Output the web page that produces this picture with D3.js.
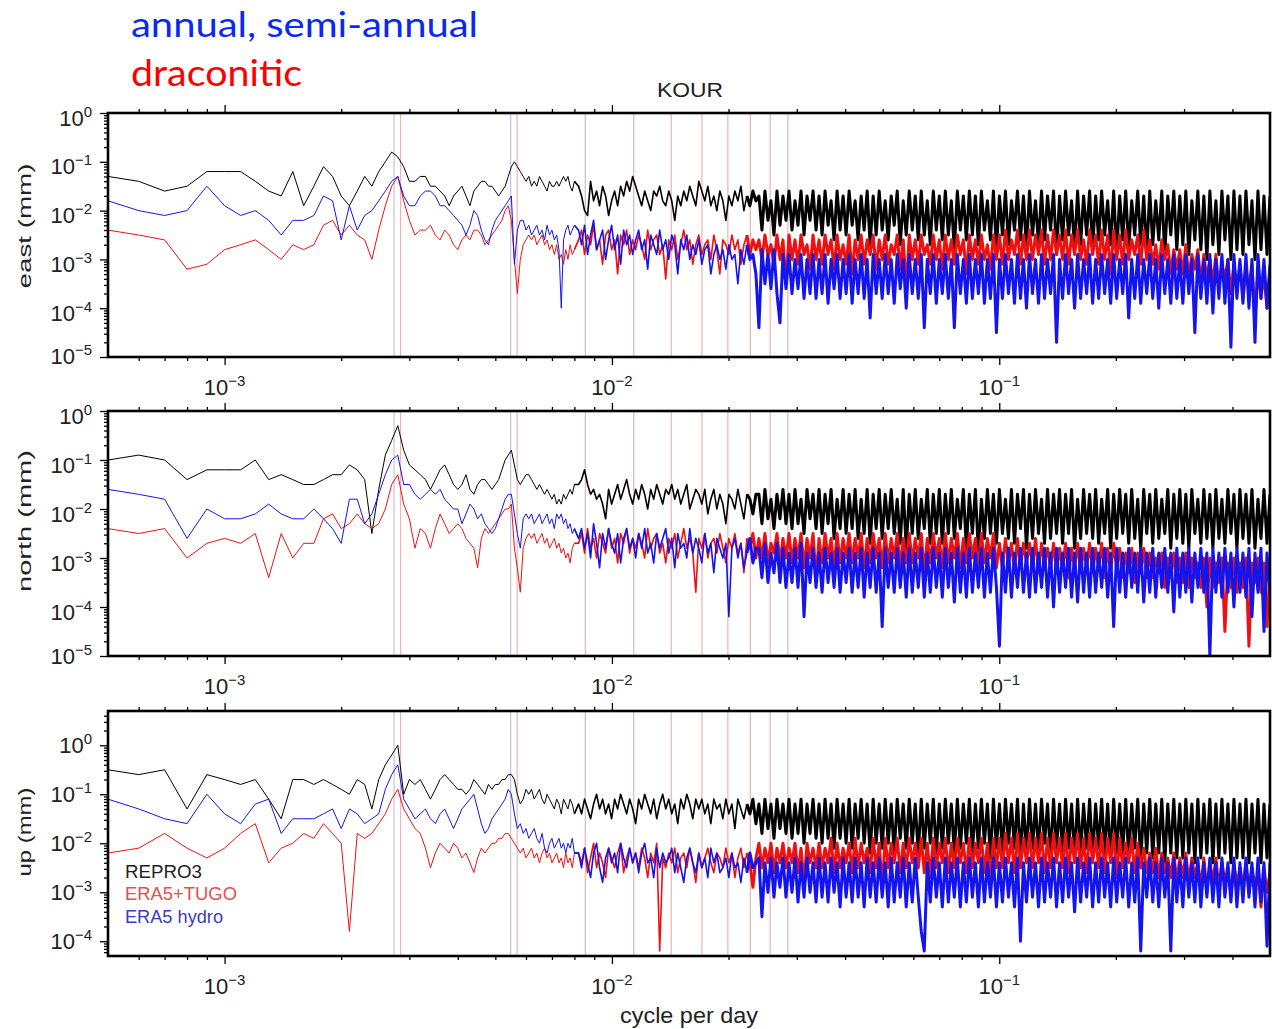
<!DOCTYPE html>
<html>
<head>
<meta charset="utf-8">
<script src="https://cdn.jsdelivr.net/npm/d3@7"></script>
<style>
  body { margin: 0; background: #fff; }
  svg { display: block; font-family: "Liberation Sans", Helvetica, Arial, sans-serif; }
</style>
</head>
<body>
<svg id="chart" width="1272" height="1029"></svg>
<script>
// amplitude spectra of KOUR, each value = -10*log10(amplitude in mm)
// "Low" arrays: one value per frequency bin k*1e-4 cpd, k = 5..80
// "High" arrays: one value per equal log step from 0.0082 to 0.5 cpd
const binWidth = 1e-4;
const firstBin = 5;
const highStart = 0.0082;
const highEnd = 0.5;

// periods marked by vertical lines (cpd)
const annualFreq = [0.002738, 0.005476];
const draconiticFreq = [0.002846, 0.005692, 0.008537, 0.011383, 0.014229, 0.017075, 0.01992, 0.022766, 0.025612, 0.028458];

const seriesNames = ["REPRO3", "ERA5+TUGO", "ERA5 hydro"];

// ---- east ----
const eastRepro3Low = [13,14,16,15,12,12,12,14,16,17, 12,19,15,11,13,17,19,16,13,15, 12,10,8,9,11,14,14,13,13,15,
  15,16,17,19,17,16,15,17,19,16, 15,14,14,15,15,16,17,16,15,13, 11,10,11,12,13,14,13,15,14,15,
  13,14,15,16,14,15,15,14,15,14, 13,14,13,15,16,14];
const eastRepro3High = [15,17,20,21,14,18,16,19,15,17, 21,18,16,19,15,17,14,16,13,15, 17,19,16,18,20,16,17,15,18,19,
  16,18,22,17,19,16,18,15,17,19, 14,16,18,15,19,17,20,16,18,22, 17,19,16,18,15,20,17,19,16,18,
  17,24,16,22,18,25,16,23,17,22, 16,24,18,23,16,25,17,22,16,24, 17,25,16,23,18,26,16,24,17,25,
  16,23,18,26,17,24,16,27,17,25, 16,24,18,26,17,23,16,27,18,25, 16,24,17,26,16,25,18,27,16,24,
  17,26,16,25,18,28,16,24,17,26, 16,25,17,27,16,24,18,26,16,28, 17,25,16,27,18,24,16,26,17,28,
  16,25,18,27,16,26,17,24,16,29, 17,26,16,25,18,28,16,27,17,25, 16,28,17,26,16,25,18,27,16,29,
  17,26,16,28,18,25,16,27,17,29, 16,27,18,26,16,29,17,25,16,28, 17,27,16,29,18,26,16,28,17,30,
  16,27,18,29,16,26,17,30,16,28, 17,29,16,27,18,30,16,28,17,29,17];
const eastTugoLow = [24,25,26,32,31,28,27,26,28,30, 27,28,27,23,22,25,23,25,26,30, 24,19,15,13,18,22,25,24,24,23,
  25,26,24,25,27,28,26,25,26,24, 24,25,27,26,25,24,23,22,20,19, 22,30,37,30,27,26,25,26,25,27,
  26,25,27,26,28,27,29,27,30,29, 31,28,30,27,29,28];
const eastTugoHigh = [26,24,29,25,27,23,28,26,31,25, 24,28,26,33,25,27,24,29,26,28, 25,27,30,24,28,26,25,29,27,34,
  26,28,25,30,27,24,28,26,31,27, 25,29,27,26,30,25,28,33,26,27, 29,25,28,26,31,27,25,29,26,28,
  26,30,25,29,27,31,25,30,26,35, 25,30,26,31,25,29,27,32,25,30, 26,31,25,29,26,32,25,30,27,31,
  25,33,26,30,25,31,26,29,25,32, 26,30,25,31,27,29,25,32,26,36, 25,30,26,31,25,29,27,31,25,30,
  26,32,25,30,26,31,25,29,26,33, 25,30,26,31,25,30,27,32,25,30, 25,31,24,30,26,29,24,31,25,30,
  24,30,25,29,24,31,25,30,24,29, 25,30,24,31,25,29,24,30,26,31, 24,29,25,31,24,30,25,33,24,30,
  25,31,24,30,26,29,25,31,24,30, 26,31,27,32,26,30,27,33,28,32, 28,33,27,34,29,32,28,35,29,34,
  30,35,29,36,31,34,30,37,31,36, 31,38,32,36,31,42,32,38,33,40,32];
const eastHydroLow = [18,20,21,20,15,19,21,20,22,25, 22,22,21,17,18,26,19,24,21,20, 18,16,14,13,17,19,19,17,16,16,
  17,19,19,20,21,22,23,25,23,20, 21,24,26,27,24,22,21,20,19,18, 17,31,24,22,22,24,23,25,24,23,
  25,24,26,23,25,24,26,25,28,40, 26,24,23,25,24,23];
const eastHydroHigh = [24,27,23,29,25,22,28,26,24,30, 26,23,28,25,31,24,27,25,29,26, 24,28,26,32,25,27,29,24,28,26,
  30,25,27,33,26,28,25,30,27,29, 26,31,28,27,33,29,27,30,28,32, 27,30,29,35,28,31,27,30,29,33,
  44,28,35,29,36,28,37,43,29,36, 29,37,30,36,29,38,30,37,29,38, 30,37,29,39,30,36,29,38,30,37,
  29,39,30,37,29,38,30,42,29,37, 30,38,29,37,30,39,29,36,30,40, 29,37,30,38,29,44,30,37,29,39,
  30,37,29,38,30,44,29,37,30,39, 29,38,30,37,29,39,30,38,29,45, 30,38,29,37,30,39,29,38,30,40,
  29,37,30,39,29,38,30,37,29,47, 30,38,29,37,30,40,29,38,30,37, 29,39,30,38,29,37,30,39,29,38,
  30,37,29,42,30,38,29,39,30,37, 29,38,30,40,29,37,30,39,29,38, 30,39,29,37,30,45,29,38,30,39,
  29,41,30,38,29,39,30,48,29,38, 30,39,29,40,30,47,29,38,30,40,31];

// ---- north ----
const northRepro3Low = [10,9,10,14,12,12,12,10,14,13, 14,15,15,14,13,13,11,12,14,25, 16,9,6,3,8,11,12,13,14,16,
  14,12,11,13,15,16,15,13,16,17, 15,14,14,15,16,15,14,12,10,9, 8,11,14,15,14,13,13,14,15,16,
  15,16,17,16,17,18,17,19,18,19, 17,18,17,16,17,15];
const northRepro3High = [15,14,12,15,17,16,18,17,19,22, 16,19,17,15,18,16,14,17,19,16, 18,15,17,20,16,18,15,17,19,16,
  17,15,18,16,19,17,15,20,18,16, 17,19,16,21,18,16,20,17,19,23, 17,18,20,16,19,22,17,18,21,17,
  17,23,16,22,18,24,17,22,16,23, 17,24,16,23,18,25,16,22,17,24, 16,25,17,23,16,26,18,24,16,25,
  17,24,16,26,18,25,16,27,17,24, 16,26,17,24,16,25,18,27,16,28, 17,25,16,26,18,24,16,27,17,25,
  16,27,17,25,16,26,18,24,16,28, 17,25,16,29,18,26,16,25,17,27, 16,25,18,26,16,27,17,24,16,28,
  17,26,16,25,18,27,16,26,17,25, 16,27,17,25,16,28,18,26,16,25, 17,26,16,27,18,25,16,28,17,26,
  16,25,17,27,16,26,18,28,16,25, 17,27,16,26,18,25,16,28,17,26, 16,27,17,28,16,25,18,27,16,26,
  17,28,16,26,18,27,16,25,17,28, 16,26,17,27,16,28,18,26,16,27,17];
const northTugoLow = [24,25,24,30,27,26,27,25,34,25, 30,27,27,22,21,24,23,21,23,24, 23,20,15,13,19,22,28,24,25,28,
  24,21,23,25,24,23,24,26,27,28, 32,26,24,25,24,23,22,21,20,20, 19,28,32,37,28,26,25,26,25,27,
  26,25,27,26,28,27,26,28,27,29, 28,30,29,31,28,27];
const northTugoHigh = [27,25,29,24,28,26,30,25,27,29, 24,28,26,31,25,27,24,29,26,28, 25,27,30,24,28,26,25,29,27,31,
  26,28,25,30,27,24,28,26,29,37, 26,28,25,30,27,26,29,25,28,31, 26,28,25,29,27,33,26,28,25,30,
  26,30,25,31,27,29,25,31,26,30, 25,31,26,30,25,32,26,30,25,34, 26,31,25,30,26,32,25,31,26,30,
  25,31,26,30,25,32,26,31,25,30, 26,32,25,31,26,30,25,32,26,31, 25,31,26,30,25,33,26,31,25,30,
  26,32,25,31,26,30,25,32,26,31, 25,30,26,32,25,31,26,30,25,32, 27,32,26,31,27,33,26,32,27,31,
  27,32,26,33,27,31,28,32,27,33, 28,32,27,34,28,32,27,33,28,32, 27,33,28,32,27,34,28,33,27,32,
  28,34,29,33,28,35,29,33,28,34, 29,34,30,33,29,36,30,34,29,35, 30,35,29,36,30,34,31,36,30,40,
  30,36,31,35,30,45,31,36,30,37, 31,36,30,48,31,35,30,37,31,44,32];
const northHydroLow = [16,17,18,26,20,22,22,21,19,21, 22,22,20,22,24,27,18,18,23,21, 17,13,10,9,15,15,17,18,17,16,
  17,16,18,19,20,20,23,21,19,20, 22,21,23,24,25,24,22,20,18,17, 17,21,25,28,22,21,22,21,23,22,
  21,23,22,21,23,22,24,21,22,21, 23,22,24,23,25,24];
const northHydroHigh = [26,24,28,25,30,23,27,32,25,28, 24,27,29,25,31,26,24,28,26,30, 25,28,24,29,27,31,25,28,26,24,
  29,26,32,25,28,27,30,24,29,26, 28,31,25,29,27,33,26,28,30,27, 42,28,26,30,27,32,29,26,31,28,
  28,34,27,35,29,33,27,35,28,36, 29,35,28,36,27,42,29,35,28,36, 29,37,28,35,29,36,28,37,29,35,
  28,37,29,36,28,38,29,36,28,37, 29,44,28,36,29,37,28,36,29,38, 28,37,29,36,28,38,29,37,28,36,
  29,38,28,36,29,39,28,37,29,38, 28,37,29,36,28,38,29,37,28,36, 48,29,37,28,38,29,36,28,37,29,
  38,28,37,29,36,28,38,29,40,28, 37,29,36,28,38,29,39,28,37,29, 38,28,37,29,36,28,38,29,44,28,
  37,29,38,28,36,29,37,28,39,29, 37,28,38,29,36,28,37,29,41,28, 38,29,37,28,39,29,36,28,37,29,
  50,28,37,29,38,28,37,29,40,28, 37,29,38,28,42,29,37,28,45,29,37];

// ---- up ----
const upRepro3Low = [5,6,5,13,6,7,8,7,11,15, 7,7,8,7,8,9,10,7,8,13, 7,4,2,0,10,7,8,7,9,11,
  9,7,6,7,8,9,9,10,9,7, 8,9,10,8,9,8,8,7,7,6, 6,7,10,12,11,9,10,9,11,10,
  9,11,12,10,11,12,13,11,12,14, 11,12,13,11,12,14];
const upRepro3High = [12,14,11,13,15,12,10,13,11,14, 12,15,11,13,10,12,14,11,13,16, 11,13,10,12,14,11,15,12,10,13,
  11,14,12,16,11,13,10,12,15,11, 13,11,14,12,16,11,13,12,15,11, 14,12,17,11,13,15,12,14,11,16,
  12,18,11,17,12,19,11,17,12,18, 11,19,12,18,11,20,12,18,11,19, 12,20,11,19,12,21,11,19,12,20,
  11,21,12,19,11,20,12,22,11,20, 12,21,11,20,12,22,11,19,12,21, 11,20,12,22,11,21,12,20,11,22,
  12,21,11,20,12,22,11,21,12,20, 11,22,12,21,11,20,12,23,11,21, 12,22,11,20,12,21,11,23,12,22,
  11,21,12,22,11,20,12,23,11,21, 12,22,11,21,12,23,11,22,12,21, 11,23,12,21,11,22,12,23,11,22,
  12,22,11,23,12,21,11,24,12,22, 11,23,12,22,11,24,12,22,11,23, 12,23,11,22,12,24,11,23,12,22,
  11,24,12,23,11,22,12,24,11,23, 12,23,11,24,12,22,11,24,12,23,12];
const upTugoLow = [22,21,18,21,23,21,18,16,24,21, 20,18,19,16,18,20,38,18,19,18, 16,14,11,9,13,15,17,18,21,25,
  22,20,21,22,20,21,23,22,24,26, 23,21,22,21,20,20,19,19,18,18, 19,20,21,22,21,23,22,21,23,22,
  24,22,21,23,22,24,23,22,24,23, 25,22,24,23,25,22];
const upTugoHigh = [22,24,21,26,23,20,25,22,24,27, 21,23,25,22,20,26,23,21,24,22, 25,21,23,27,22,24,20,42,23,25,
  22,24,21,26,23,22,25,21,24,28, 22,25,23,21,24,26,22,23,25,21, 24,22,27,23,21,25,22,24,29,23,
  20,25,21,24,20,26,21,24,20,25, 21,24,20,26,21,28,20,24,21,25, 20,25,21,24,19,26,20,25,21,24,
  20,26,19,25,20,24,21,26,19,25, 20,29,19,25,20,24,19,26,20,25, 19,24,20,25,19,26,20,27,19,25,
  20,24,19,26,20,25,19,24,20,26, 19,25,20,24,19,26,20,28,19,25, 19,25,18,24,19,26,18,25,19,24,
  18,25,19,24,18,26,19,25,18,24, 19,25,18,26,19,24,18,25,19,26, 18,24,19,25,18,26,19,24,18,27,
  19,25,20,24,19,26,20,25,21,26, 22,26,21,27,22,26,23,27,22,28, 23,27,22,28,23,27,24,29,23,30,
  24,28,23,29,24,28,25,31,24,29, 25,29,24,30,25,29,26,33,25,30,26];
const upHydroLow = [11,13,15,16,10,14,16,12,11,18, 15,15,15,14,13,17,13,14,16,15, 14,9,6,4,11,13,15,14,13,15,
  16,14,13,15,17,15,13,12,11,10, 13,16,18,17,15,14,13,12,11,9, 10,14,17,16,18,17,19,18,17,19,
  20,18,21,22,20,19,21,20,19,21, 20,22,20,21,19,22];
const upHydroHigh = [22,25,21,24,27,22,20,25,28,23, 21,24,22,26,20,23,25,21,24,22, 26,22,20,24,23,27,21,25,22,24,
  23,21,26,22,25,28,23,21,24,26, 22,25,23,27,21,24,22,26,25,23, 27,22,25,24,28,23,26,22,25,24,
  23,35,24,30,23,31,24,29,23,31, 24,30,23,32,24,31,23,30,24,32, 23,31,24,32,23,30,24,33,23,31,
  24,32,23,31,24,33,23,31,24,32, 23,31,24,33,23,32,24,31,23,33, 24,32,23,31,38,42,24,32,23,31,
  24,33,23,32,24,31,23,33,24,32, 23,31,24,33,23,32,24,31,23,33, 24,32,23,31,24,33,23,40,24,32,
  23,31,24,33,23,32,24,31,23,33, 24,32,23,31,24,34,23,32,24,31, 23,33,24,32,23,31,24,33,23,32,
  24,31,23,33,24,32,23,42,24,31, 23,32,24,33,23,31,24,42,23,32, 24,33,23,31,24,32,23,33,24,31,
  23,32,24,33,23,31,24,32,23,33, 24,32,23,31,24,33,23,32,24,41,24];

// ---- layout ----
const left = 108, right = 1270;
const seriesColors = ["#000000", "#ee1111", "#1414ee"];
const legendColors = ["#222222", "#e05050", "#3c3cc4"];
const denseFrom = 0.022; // above this the spectrum is drawn as a dense band

const panels = [
  { id: "east", title: "east (mm)", top: 113, bottom: 357, domain: [1e-5, 1], decades: [0, -1, -2, -3, -4, -5],
    labelDy: 12.5, lastDy: 6.5, titleY: 226, titleLen: 125,
    series: [[eastRepro3Low, eastRepro3High], [eastTugoLow, eastTugoHigh], [eastHydroLow, eastHydroHigh]] },
  { id: "north", title: "north (mm)", top: 411, bottom: 656, domain: [1e-5, 1], decades: [0, -1, -2, -3, -4, -5],
    labelDy: 12.5, lastDy: 7.5, titleY: 521, titleLen: 142,
    series: [[northRepro3Low, northRepro3High], [northTugoLow, northTugoHigh], [northHydroLow, northHydroHigh]] },
  { id: "up", title: "up (mm)", top: 711, bottom: 956, domain: [5e-5, 5], decades: [0, -1, -2, -3, -4],
    labelDy: 7.5, lastDy: 7.5, titleY: 832, titleLen: 89,
    series: [[upRepro3Low, upRepro3High], [upTugoLow, upTugoHigh], [upHydroLow, upHydroHigh]] }
];

const svg = d3.select("#chart");
svg.append("rect").attr("width", 1272).attr("height", 1029).attr("fill", "#fff");

const x = d3.scaleLog().domain([5e-4, 0.5]).range([left, right]);

function toPoints(low, high) {
  const lowPts = low.map((v, i) => [(firstBin + i) * binWidth, Math.pow(10, -v / 10)]);
  const step = Math.log10(highEnd / highStart) / (high.length - 1);
  const highPts = high.map((v, j) => [highStart * Math.pow(10, j * step), Math.pow(10, -v / 10)]);
  return { lowPts, highPts };
}

function minorTicks(lo, hi) {
  const out = [];
  for (let e = -6; e <= 1; e++) {
    for (let m = 2; m <= 9; m++) {
      const v = m * Math.pow(10, e);
      if (v > lo * 1.001 && v < hi * 0.999) out.push(v);
    }
  }
  return out;
}

function supLabel(sel, exp, supSize, rise) {
  sel.append("tspan").text("10");
  sel.append("tspan").attr("dy", -rise).attr("font-size", supSize)
    .text(exp === 0 ? "0" : "\u2212" + Math.abs(exp));
}

const xMajor = [1e-3, 1e-2, 1e-1];
const xMinor = minorTicks(5e-4, 0.5);

panels.forEach(p => {
  const y = d3.scaleLog().domain(p.domain).range([p.bottom, p.top]);
  const g = svg.append("g").attr("class", "panel-" + p.id);

  g.append("clipPath").attr("id", "clip-" + p.id)
    .append("rect").attr("x", left).attr("y", p.top)
    .attr("width", right - left).attr("height", p.bottom - p.top);

  const plot = g.append("g").attr("clip-path", `url(#clip-${p.id})`);

  // annual / draconitic markers
  plot.selectAll("line.annual").data(annualFreq).enter().append("line")
    .attr("class", "annual")
    .attr("x1", d => x(d)).attr("x2", d => x(d))
    .attr("y1", p.top).attr("y2", p.bottom)
    .attr("stroke", "#c6c3dc").attr("stroke-width", 1.2);
  plot.selectAll("line.drac").data(draconiticFreq).enter().append("line")
    .attr("class", "drac")
    .attr("x1", d => x(d)).attr("x2", d => x(d))
    .attr("y1", p.top).attr("y2", p.bottom)
    .attr("stroke", "#f0b2b2").attr("stroke-width", 1.2);

  const line = d3.line().x(d => x(d[0])).y(d => y(d[1]));

  p.series.forEach((s, si) => {
    const pts = toPoints(s[0], s[1]);
    const all = pts.lowPts.concat(pts.highPts);
    const iLow = pts.lowPts.length;
    const iDense = all.findIndex(d => d[0] >= denseFrom);
    const parts = [
      { data: all.slice(0, iLow + 1), w: 1 },
      { data: all.slice(iLow - 1, iDense + 1), w: 1.6 },
      { data: all.slice(iDense), w: 3 }
    ];
    parts.forEach(part => {
      plot.append("path")
        .datum(part.data)
        .attr("d", line)
        .attr("fill", "none").attr("stroke", seriesColors[si])
        .attr("stroke-width", part.w).attr("stroke-linejoin", "round");
    });
  });

  // axes (ticks only, frame drawn separately)
  const tickStyle = a => {
    a.select(".domain").remove();
    a.selectAll(".tick line").attr("stroke", "#000").attr("stroke-width", 1.3);
  };
  g.append("g").attr("transform", `translate(0,${p.bottom})`)
    .call(d3.axisBottom(x).tickValues(xMinor).tickSize(4).tickFormat("")).call(tickStyle);
  g.append("g").attr("transform", `translate(0,${p.bottom})`)
    .call(d3.axisBottom(x).tickValues(xMajor).tickSize(8).tickFormat("")).call(tickStyle);
  g.append("g").attr("transform", `translate(0,${p.top})`)
    .call(d3.axisTop(x).tickValues(xMinor).tickSize(4).tickFormat("")).call(tickStyle);
  g.append("g").attr("transform", `translate(0,${p.top})`)
    .call(d3.axisTop(x).tickValues(xMajor).tickSize(8).tickFormat("")).call(tickStyle);

  const yMajor = p.decades.map(e => Math.pow(10, e));
  g.append("g").attr("transform", `translate(${left},0)`)
    .call(d3.axisLeft(y).tickValues(minorTicks(p.domain[0], p.domain[1])).tickSize(4).tickFormat("")).call(tickStyle);
  g.append("g").attr("transform", `translate(${left},0)`)
    .call(d3.axisLeft(y).tickValues(yMajor).tickSize(8).tickFormat("")).call(tickStyle);

  // frame
  g.append("rect").attr("x", left).attr("y", p.top)
    .attr("width", right - left).attr("height", p.bottom - p.top)
    .attr("fill", "none").attr("stroke", "#000").attr("stroke-width", 2.6);

  // y tick labels
  p.decades.forEach((e, i) => {
    const dy = (i === p.decades.length - 1) ? p.lastDy : p.labelDy;
    const t = g.append("text").attr("x", 92).attr("y", y(Math.pow(10, e)) + dy)
      .attr("text-anchor", "end").attr("font-size", 22).attr("fill", "#222");
    supLabel(t, e, 15, 9);
  });

  // x tick labels
  xMajor.forEach(f => {
    const t = g.append("text").attr("x", x(f)).attr("y", p.bottom + 38)
      .attr("text-anchor", "middle").attr("font-size", 22).attr("fill", "#222");
    supLabel(t, Math.round(Math.log10(f)), 15, 9);
  });

  // y title
  g.append("text")
    .attr("transform", `translate(31,${p.titleY}) rotate(-90)`)
    .attr("text-anchor", "middle").attr("font-size", 19).attr("fill", "#222")
    .attr("textLength", p.titleLen).attr("lengthAdjust", "spacingAndGlyphs")
    .text(p.title);
});

// station title and x-axis label
svg.append("text").attr("x", 690).attr("y", 97).attr("text-anchor", "middle")
  .attr("font-size", 21).attr("fill", "#222")
  .attr("textLength", 66).attr("lengthAdjust", "spacingAndGlyphs").text("KOUR");
svg.append("text").attr("x", 689).attr("y", 1023).attr("text-anchor", "middle")
  .attr("font-size", 22).attr("fill", "#222")
  .attr("textLength", 138).attr("lengthAdjust", "spacingAndGlyphs").text("cycle per day");

// legend inside the up panel
const legendY = [878, 900, 923];
const legendLen = [77, 112, 98];
seriesNames.forEach((n, i) => {
  svg.append("text").attr("x", 125).attr("y", legendY[i])
    .attr("font-size", 18).attr("fill", legendColors[i])
    .attr("textLength", legendLen[i]).attr("lengthAdjust", "spacingAndGlyphs").text(n);
});

// annotation above the chart
svg.append("text").attr("x", 131).attr("y", 37)
  .attr("font-family", "Lato, 'Open Sans', sans-serif").attr("font-size", 35).attr("fill", "#0a28f5")
  .attr("textLength", 347).attr("lengthAdjust", "spacingAndGlyphs").text("annual, semi-annual");
svg.append("text").attr("x", 131).attr("y", 86)
  .attr("font-family", "Lato, 'Open Sans', sans-serif").attr("font-size", 37).attr("fill", "#ff0000")
  .attr("textLength", 171).attr("lengthAdjust", "spacingAndGlyphs").text("draconitic");
</script>
</body>
</html>
